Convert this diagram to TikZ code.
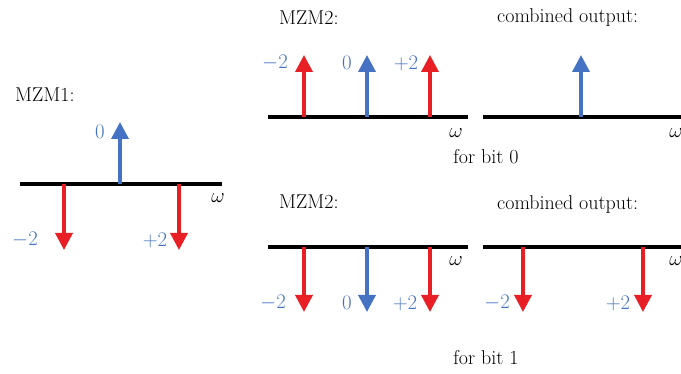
\documentclass[tikz,border=0pt]{standalone}
\usetikzlibrary{arrows.meta}
\definecolor{specred}{RGB}{232,32,38}
\definecolor{specblue}{RGB}{70,114,196}
\begin{document}
\begin{tikzpicture}[x=1pt,y=-1pt,
  axis/.style={line width=4pt},
  spike/.style={line width=3.6pt,-{Triangle[width=17pt,length=17pt]}},
  redspike/.style={spike,draw=specred,fill=specred},
  bluespike/.style={spike,draw=specblue,fill=specblue},
  lbl/.style={font=\fontsize{20}{23}\selectfont,inner sep=0pt},
  num/.style={lbl,text=specblue},
]
\useasboundingbox (0,0) rectangle (681,374);

% ---- MZM1 spectrum ----
\node[lbl,anchor=west] (t1) at (15,95) {MZM1:};
\coordinate (a1L) at (20,184);
\coordinate (a1R) at (222,184);
\draw[axis] (a1L) -- (a1R);
\coordinate (a1m) at (64,184);  \coordinate (a1mt) at (64,250);
\coordinate (a1z) at (120,184); \coordinate (a1zt) at (120,122);
\coordinate (a1p) at (179,184); \coordinate (a1pt) at (179,250);
\draw[bluespike] (a1z) -- (a1zt);
\draw[redspike] (a1m) -- (a1mt);
\draw[redspike] (a1p) -- (a1pt);
\node[num] (n1z) at (100,132) {$0$};
\node[num] (n1m) at (25,240) {$-2$};
\node[num] (n1p) at (155,240) {$+2$};
\node[lbl] (w1) at (218,198) {$\omega$};

% ---- MZM2, bit 0 ----
\node[lbl,anchor=west] (t2) at (279,18) {MZM2:};
\coordinate (a2L) at (268,117);
\coordinate (a2R) at (468,117);
\draw[axis] (a2L) -- (a2R);
\coordinate (a2m) at (304,117); \coordinate (a2mt) at (304,55);
\coordinate (a2z) at (367,117); \coordinate (a2zt) at (367,55);
\coordinate (a2p) at (430,117); \coordinate (a2pt) at (430,55);
\draw[redspike] (a2m) -- (a2mt);
\draw[bluespike] (a2z) -- (a2zt);
\draw[redspike] (a2p) -- (a2pt);
\node[num] (n2m) at (275,63) {$-2$};
\node[num] (n2z) at (347,63) {$0$};
\node[num] (n2p) at (406,63) {$+2$};
\node[lbl] (w2) at (456,133) {$\omega$};

% ---- combined output, bit 0 ----
\node[lbl,anchor=west] (t3) at (497,18) {combined output:};
\coordinate (a3L) at (483,117);
\coordinate (a3R) at (690,117);
\draw[axis] (a3L) -- (a3R);
\coordinate (a3z) at (581,117); \coordinate (a3zt) at (581,55);
\draw[bluespike] (a3z) -- (a3zt);
\node[lbl] (w3) at (676,133) {$\omega$};
\node[lbl] (bit0) at (486,157) {for bit 0};

% ---- MZM2, bit 1 ----
\node[lbl,anchor=west] (t4) at (279,202) {MZM2:};
\coordinate (a4L) at (268,247);
\coordinate (a4R) at (468,247);
\draw[axis] (a4L) -- (a4R);
\coordinate (a4m) at (304,247); \coordinate (a4mt) at (304,312);
\coordinate (a4z) at (367,247); \coordinate (a4zt) at (367,312);
\coordinate (a4p) at (430,247); \coordinate (a4pt) at (430,312);
\draw[redspike] (a4m) -- (a4mt);
\draw[bluespike] (a4z) -- (a4zt);
\draw[redspike] (a4p) -- (a4pt);
\node[num] (n4m) at (273,303) {$-2$};
\node[num] (n4z) at (347,303) {$0$};
\node[num] (n4p) at (405,303) {$+2$};
\node[lbl] (w4) at (456,261) {$\omega$};

% ---- combined output, bit 1 ----
\node[lbl,anchor=west] (t5) at (497,205) {combined output:};
\coordinate (a5L) at (483,247);
\coordinate (a5R) at (690,247);
\draw[axis] (a5L) -- (a5R);
\coordinate (a5m) at (523,247); \coordinate (a5mt) at (523,312);
\coordinate (a5p) at (643,247); \coordinate (a5pt) at (643,312);
\draw[redspike] (a5m) -- (a5mt);
\draw[redspike] (a5p) -- (a5pt);
\node[num] (n5m) at (497,303) {$-2$};
\node[num] (n5p) at (618,303) {$+2$};
\node[lbl] (w5) at (676,261) {$\omega$};
\node[lbl] (bit1) at (486,358) {for bit 1};
\end{tikzpicture}
\end{document}
